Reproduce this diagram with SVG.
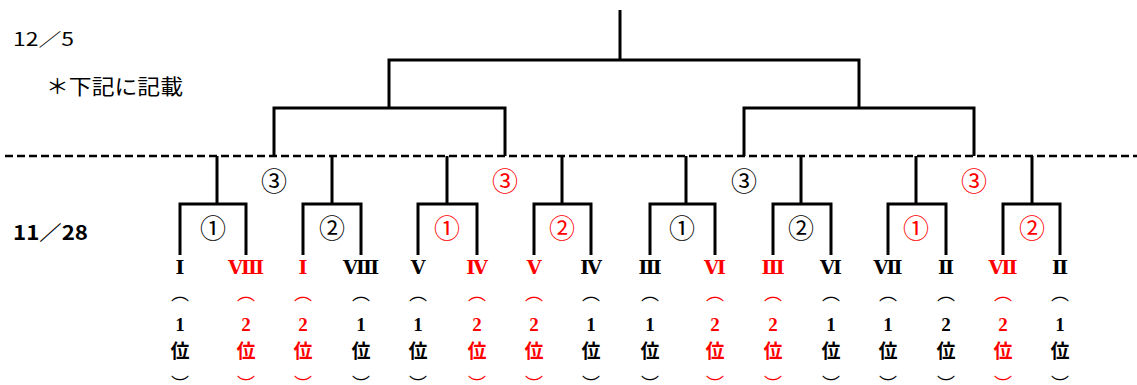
<svg xmlns="http://www.w3.org/2000/svg" width="1137" height="385" viewBox="0 0 1137 385">
<style>
.ln{fill:none;stroke:#000;stroke-width:3;stroke-linejoin:miter;stroke-linecap:butt}
.dash{fill:none;stroke:#000;stroke-width:2.5;stroke-dasharray:8 4}
.jp{font-family:'Noto Sans CJK JP',sans-serif}
.cn{font-family:'Noto Sans CJK JP',sans-serif;font-size:26px;text-anchor:middle}
.rn{font-family:'DejaVu Serif','Liberation Serif',serif;font-weight:bold;font-size:19px;text-anchor:middle}
.par{font-family:'Noto Sans CJK JP',sans-serif;font-size:18px;text-anchor:middle}
.dg{font-family:'Liberation Serif',serif;font-weight:bold;font-size:19px;text-anchor:middle}
.pos{font-family:'Noto Sans CJK JP',sans-serif;font-weight:bold;font-size:19px;text-anchor:middle}
.k{fill:#000}.r{fill:#ff0000}
</style>
<rect width="1137" height="385" fill="#fff"/>
<g id="labels">
<text class="jp" x="13" y="46" font-size="18" textLength="61" lengthAdjust="spacingAndGlyphs">12／5</text>
<text class="jp" x="46" y="94" font-size="21" textLength="137" lengthAdjust="spacingAndGlyphs">＊下記に記載</text>
<text class="jp" x="13" y="240" font-size="20" font-weight="bold" textLength="75" lengthAdjust="spacingAndGlyphs">11／28</text>
</g>
<g id="connectors">
<path class="ln" d="M620,10V60M389,108V60H859V108"/>
<path class="ln" d="M274,156V108H505V156M744,156V108H974V156"/>
<path class="ln" d="M217,156V204M180,255V204H246V255"/>
<path class="ln" d="M332,156V204M303,255V204H361V255"/>
<path class="ln" d="M447,156V204M418,255V204H477V255"/>
<path class="ln" d="M562,156V204M534,255V204H591V255"/>
<path class="ln" d="M686,156V204M650,255V204H715V255"/>
<path class="ln" d="M801,156V204M773,255V204H831V255"/>
<path class="ln" d="M916,156V204M888,255V204H946V255"/>
<path class="ln" d="M1032,156V204M1003,255V204H1060V255"/>
<path class="dash" d="M5,156H1137"/>
</g>
<g id="match-L3"><text class="cn k" x="274" y="191">③</text></g>
<g id="match-L1"><text class="cn k" x="213" y="238">①</text></g>
<g id="match-L2"><text class="cn k" x="332" y="238">②</text></g>
<g id="match-LR3"><text class="cn r" x="505" y="191">③</text></g>
<g id="match-LR1"><text class="cn r" x="447" y="238">①</text></g>
<g id="match-LR2"><text class="cn r" x="562" y="238">②</text></g>
<g id="match-R3"><text class="cn k" x="744" y="191">③</text></g>
<g id="match-R1"><text class="cn k" x="682" y="238">①</text></g>
<g id="match-R2"><text class="cn k" x="801" y="238">②</text></g>
<g id="match-RR3"><text class="cn r" x="974" y="191">③</text></g>
<g id="match-RR1"><text class="cn r" x="916" y="238">①</text></g>
<g id="match-RR2"><text class="cn r" x="1032" y="238">②</text></g>
<g id="team-01" class="k"><text class="rn" x="180" y="274">Ⅰ</text><text class="par" x="180" y="300">︵</text><text class="dg" x="180" y="331">1</text><text class="pos" x="180" y="358">位</text><text class="par" x="180" y="391">︶</text></g>
<g id="team-02" class="r"><text class="rn" x="246" y="274">Ⅷ</text><text class="par" x="246" y="300">︵</text><text class="dg" x="246" y="331">2</text><text class="pos" x="246" y="358">位</text><text class="par" x="246" y="391">︶</text></g>
<g id="team-03" class="r"><text class="rn" x="303" y="274">Ⅰ</text><text class="par" x="303" y="300">︵</text><text class="dg" x="303" y="331">2</text><text class="pos" x="303" y="358">位</text><text class="par" x="303" y="391">︶</text></g>
<g id="team-04" class="k"><text class="rn" x="361" y="274">Ⅷ</text><text class="par" x="361" y="300">︵</text><text class="dg" x="361" y="331">1</text><text class="pos" x="361" y="358">位</text><text class="par" x="361" y="391">︶</text></g>
<g id="team-05" class="k"><text class="rn" x="418" y="274">Ⅴ</text><text class="par" x="418" y="300">︵</text><text class="dg" x="418" y="331">1</text><text class="pos" x="418" y="358">位</text><text class="par" x="418" y="391">︶</text></g>
<g id="team-06" class="r"><text class="rn" x="477" y="274">Ⅳ</text><text class="par" x="477" y="300">︵</text><text class="dg" x="477" y="331">2</text><text class="pos" x="477" y="358">位</text><text class="par" x="477" y="391">︶</text></g>
<g id="team-07" class="r"><text class="rn" x="534" y="274">Ⅴ</text><text class="par" x="534" y="300">︵</text><text class="dg" x="534" y="331">2</text><text class="pos" x="534" y="358">位</text><text class="par" x="534" y="391">︶</text></g>
<g id="team-08" class="k"><text class="rn" x="591" y="274">Ⅳ</text><text class="par" x="591" y="300">︵</text><text class="dg" x="591" y="331">1</text><text class="pos" x="591" y="358">位</text><text class="par" x="591" y="391">︶</text></g>
<g id="team-09" class="k"><text class="rn" x="650" y="274">Ⅲ</text><text class="par" x="650" y="300">︵</text><text class="dg" x="650" y="331">1</text><text class="pos" x="650" y="358">位</text><text class="par" x="650" y="391">︶</text></g>
<g id="team-10" class="r"><text class="rn" x="715" y="274">Ⅵ</text><text class="par" x="715" y="300">︵</text><text class="dg" x="715" y="331">2</text><text class="pos" x="715" y="358">位</text><text class="par" x="715" y="391">︶</text></g>
<g id="team-11" class="r"><text class="rn" x="773" y="274">Ⅲ</text><text class="par" x="773" y="300">︵</text><text class="dg" x="773" y="331">2</text><text class="pos" x="773" y="358">位</text><text class="par" x="773" y="391">︶</text></g>
<g id="team-12" class="k"><text class="rn" x="831" y="274">Ⅵ</text><text class="par" x="831" y="300">︵</text><text class="dg" x="831" y="331">1</text><text class="pos" x="831" y="358">位</text><text class="par" x="831" y="391">︶</text></g>
<g id="team-13" class="k"><text class="rn" x="888" y="274">Ⅶ</text><text class="par" x="888" y="300">︵</text><text class="dg" x="888" y="331">1</text><text class="pos" x="888" y="358">位</text><text class="par" x="888" y="391">︶</text></g>
<g id="team-14" class="k"><text class="rn" x="946" y="274">Ⅱ</text><text class="par" x="946" y="300">︵</text><text class="dg" x="946" y="331">2</text><text class="pos" x="946" y="358">位</text><text class="par" x="946" y="391">︶</text></g>
<g id="team-15" class="r"><text class="rn" x="1003" y="274">Ⅶ</text><text class="par" x="1003" y="300">︵</text><text class="dg" x="1003" y="331">2</text><text class="pos" x="1003" y="358">位</text><text class="par" x="1003" y="391">︶</text></g>
<g id="team-16" class="k"><text class="rn" x="1060" y="274">Ⅱ</text><text class="par" x="1060" y="300">︵</text><text class="dg" x="1060" y="331">1</text><text class="pos" x="1060" y="358">位</text><text class="par" x="1060" y="391">︶</text></g>
</svg>
